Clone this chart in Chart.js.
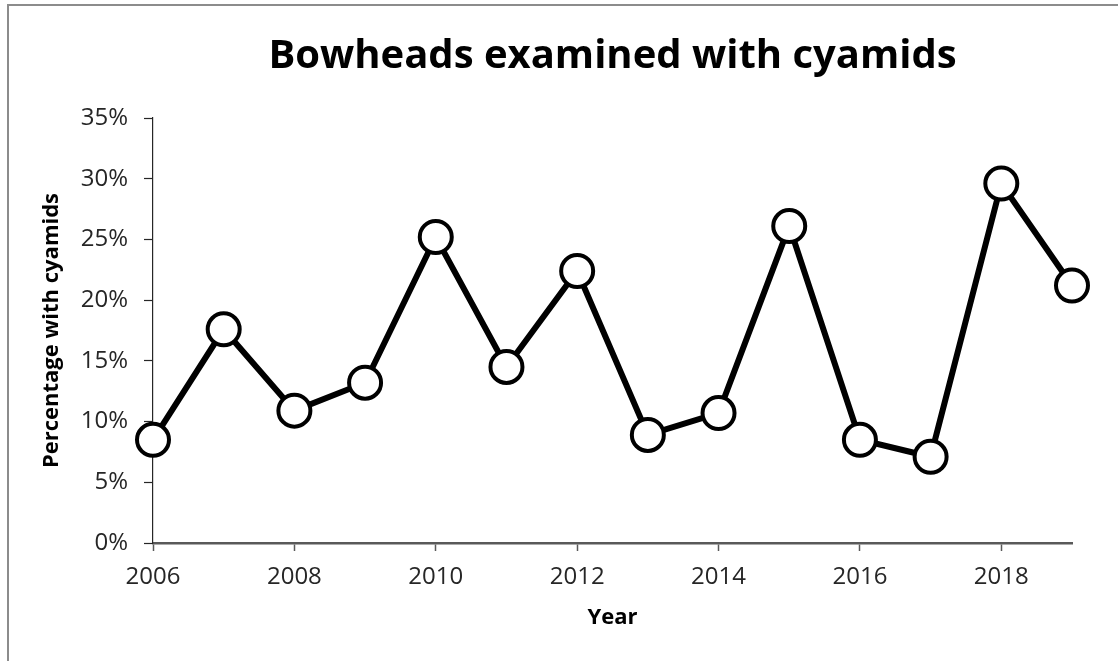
<!DOCTYPE html>
<html>
<head>
<meta charset="utf-8">
<script src="https://cdn.jsdelivr.net/npm/chart.js@4"></script>
<style>
  html, body { margin: 0; padding: 0; background: #fff; }
  #wrap { position: relative; width: 1118px; height: 661px; }
  #frame { position: absolute; left: 7px; top: 4px; right: 0; bottom: 0;
           border-top: 2px solid #8c8c8c; border-left: 2px solid #8c8c8c; pointer-events: none; }
  canvas { position: absolute; left: 0; top: 0; }
</style>
</head>
<body>
<div id="wrap">
  <canvas id="c" width="1118" height="661"></canvas>
  <div id="frame"></div>
</div>
<script>
// ---- data ----
const years = [2006, 2007, 2008, 2009, 2010, 2011, 2012, 2013, 2014, 2015, 2016, 2017, 2018, 2019];
const percentWithCyamids = [8.5, 17.6, 10.9, 13.2, 25.2, 14.5, 22.4, 8.9, 10.7, 26.1, 8.5, 7.1, 29.6, 21.2];
const yTicks = [0, 5, 10, 15, 20, 25, 30, 35];
const xTicks = [2006, 2008, 2010, 2012, 2014, 2016, 2018];
const titleText = 'Bowheads examined with cyamids';
const xTitle = 'Year';
const yTitle = 'Percentage with cyamids';

const points = years.map((y, i) => ({ x: y, y: percentWithCyamids[i] }));

const centerTitle = {
  id: 'centerTitle',
  afterLayout(chart) {
    const tb = chart.titleBlock;
    if (tb) {
      tb.left = chart.chartArea.left;
      tb.right = chart.chartArea.right;
      tb.width = tb.right - tb.left;
    }
  }
};

new Chart(document.getElementById('c'), {
  type: 'line',
  data: {
    datasets: [{
      data: points,
      borderColor: '#000',
      borderWidth: 6,
      pointRadius: 16,
      pointBorderWidth: 4,
      pointBackgroundColor: '#fff',
      pointBorderColor: '#000',
      tension: 0,
      clip: false
    }]
  },
  options: {
    responsive: false,
    animation: false,
    events: [],
    layout: { padding: { left: 8, right: 46, top: 0, bottom: 0 } },
    plugins: {
      legend: { display: false },
      tooltip: { enabled: false },
      title: {
        display: true,
        text: titleText,
        color: '#000',
        font: { family: 'Open Sans', size: 40, weight: 'bold' },
        padding: { top: 33, bottom: 37 }
      }
    },
    scales: {
      x: {
        type: 'linear',
        min: years[0],
        max: years[years.length - 1],
        afterBuildTicks: s => { s.ticks = xTicks.map(v => ({ value: v })); },
        afterFit: s => { s.height = 118; },
        grid: { drawOnChartArea: false, drawTicks: true, tickLength: 8, tickColor: '#595959', tickWidth: 1.5 },
        border: { display: true, color: '#595959', width: 2.5 },
        ticks: {
          autoSkip: false,
          maxRotation: 0,
          padding: 12,
          color: '#262626',
          font: { family: 'Open Sans', size: 24 },
          callback: v => String(v)
        },
        title: {
          display: true,
          text: xTitle,
          color: '#000',
          font: { family: 'Open Sans', size: 22, weight: 'bold' },
          padding: { top: 0, bottom: 30 }
        }
      },
      y: {
        min: 0,
        max: 35,
        afterBuildTicks: s => { s.ticks = yTicks.map(v => ({ value: v })); },
        afterFit: s => { s.width = 145; },
        grid: { drawOnChartArea: false, drawTicks: true, tickLength: 9, tickColor: '#262626', tickWidth: 1.2 },
        border: { display: true, color: '#262626', width: 1.2 },
        ticks: {
          padding: 16,
          color: '#262626',
          font: { family: 'Open Sans', size: 24 },
          callback: v => v + '%'
        },
        title: {
          display: true,
          text: yTitle,
          color: '#000',
          font: { family: 'Open Sans', size: 22, weight: 'bold' },
          padding: { top: 31, bottom: 0 }
        }
      }
    }
  },
  plugins: [centerTitle]
});
</script>
</body>
</html>
